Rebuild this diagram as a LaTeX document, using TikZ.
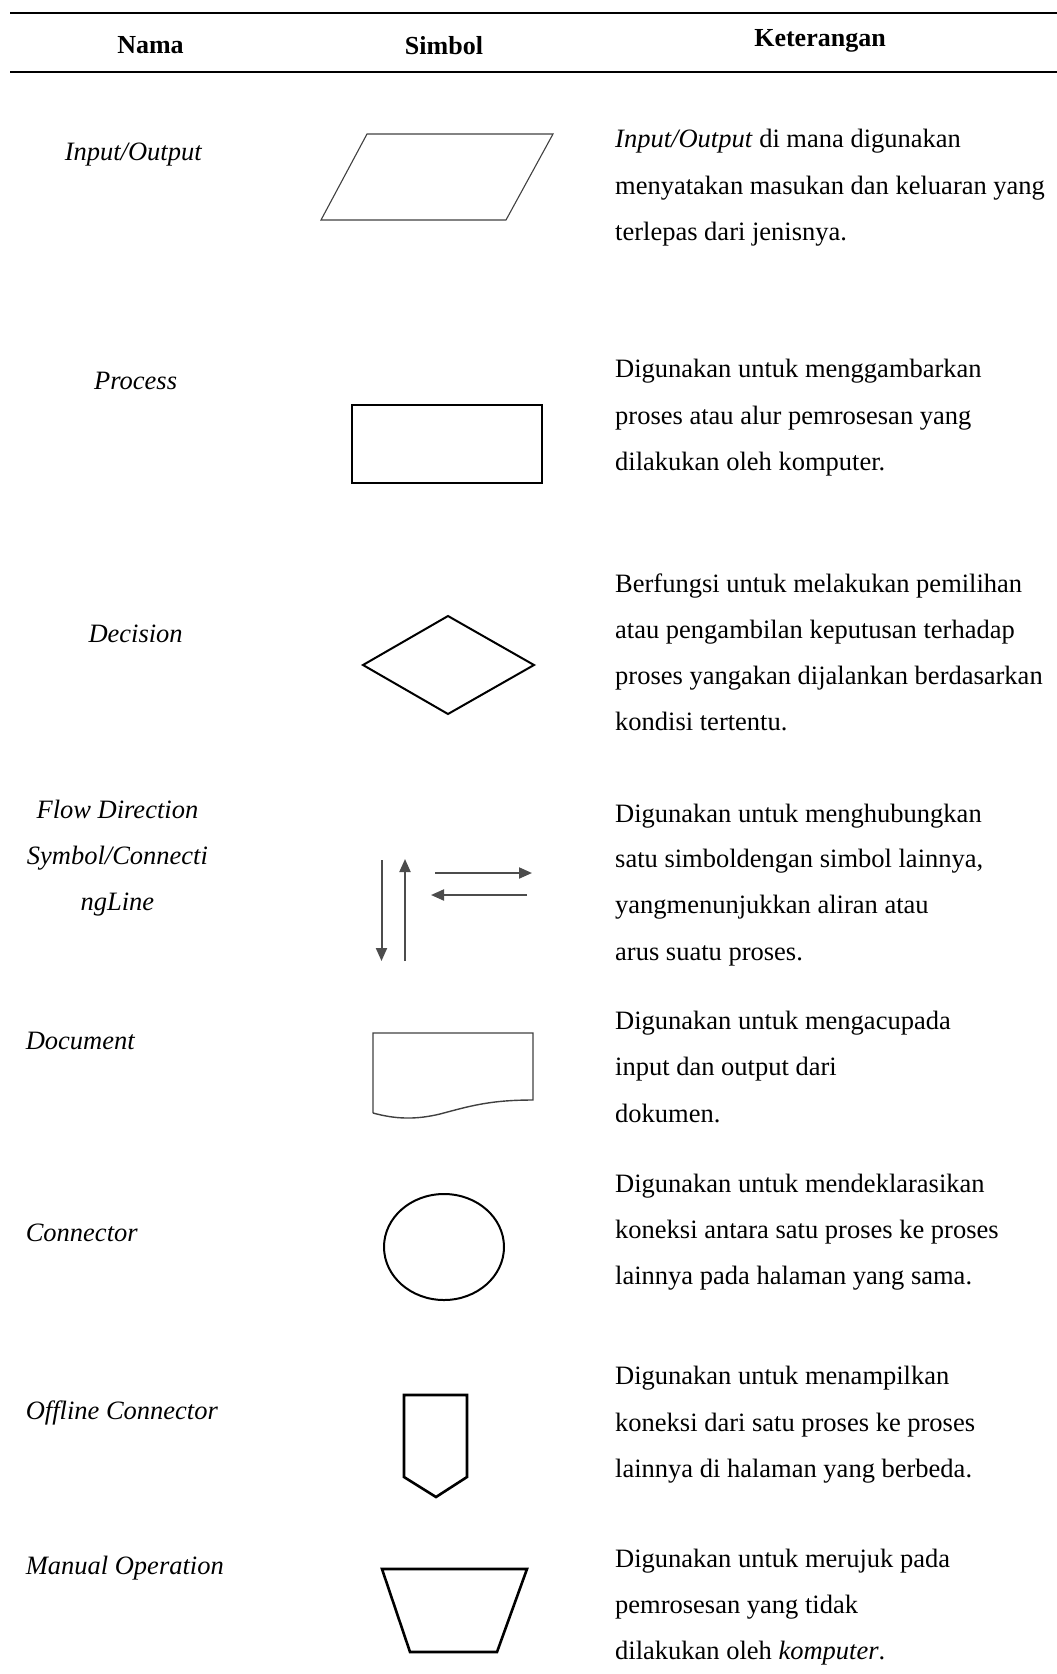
\documentclass[tikz,border=0pt]{standalone}
\usepackage{fontspec}
\setmainfont{Liberation Serif}
\usetikzlibrary{arrows.meta}
\begin{document}
\begin{tikzpicture}[x=1pt,y=-1pt,
  txt/.style={inner sep=0pt,font=\fontsize{26.5}{30}\selectfont},
  lbl/.style={txt,anchor=base},
  lbll/.style={txt,anchor=base west},
  dsc/.style={txt,anchor=base west},
  hdr/.style={txt,anchor=base,font=\fontsize{26}{30}\selectfont\bfseries},
  rule/.style={line width=2.6pt,black},
  thinsym/.style={line width=1.1pt,draw=black!75},
  midsym/.style={line width=2pt,draw=black},
  thicksym/.style={line width=2.6pt,draw=black},
  flowarr/.style={line width=2pt,draw=black!70,-{Triangle[length=13pt,width=11pt]}}
]
\useasboundingbox (0,0) rectangle (1057,1674);
% header
\coordinate (r1l) at (10,13); \coordinate (r1r) at (1057,13);
\coordinate (r2l) at (10,72); \coordinate (r2r) at (1057,72);
\draw[rule] (r1l) -- (r1r);
\draw[rule] (r2l) -- (r2r);
\node[hdr] (hn) at (150.5,53) {Nama};
\node[hdr] (hs) at (444,54) {Simbol};
\node[hdr] (hk) at (820,46) {Keterangan};

% left labels
\node[lbl] (n1) at (133.5,160) {\textit{Input/Output}};
\node[lbl] (n2) at (135.6,389) {\textit{Process}};
\node[lbl] (n3) at (135.6,642) {\textit{Decision}};
\node[lbl] (n4a) at (117.4,818) {\textit{Flow Direction}};
\node[lbl] (n4b) at (117.4,864) {\textit{Symbol/Connecti}};
\node[lbl] (n4c) at (117.4,910) {\textit{ngLine}};
\node[lbll] (n5) at (25.6,1049) {\textit{Document}};
\node[lbll] (n6) at (25.6,1241) {\textit{Connector}};
\node[lbll] (n7) at (25.6,1419) {\textit{Offline Connector}};
\node[lbll] (n8) at (25.6,1574) {\textit{Manual Operation}};

% descriptions
\node[dsc] (d1a) at (615,147) {\textit{Input/Output} di mana digunakan};
\node[dsc] (d1b) at (615,194) {menyatakan masukan dan keluaran yang};
\node[dsc] (d1c) at (615,240) {terlepas dari jenisnya.};
\node[dsc] (d2a) at (615,377) {Digunakan untuk menggambarkan};
\node[dsc] (d2b) at (615,424) {proses atau alur pemrosesan yang};
\node[dsc] (d2c) at (615,470) {dilakukan oleh komputer.};
\node[dsc] (d3a) at (615,592) {Berfungsi untuk melakukan pemilihan};
\node[dsc] (d3b) at (615,638) {atau pengambilan keputusan terhadap};
\node[dsc] (d3c) at (615,684) {proses yangakan dijalankan berdasarkan};
\node[dsc] (d3d) at (615,730) {kondisi tertentu.};
\node[dsc] (d4a) at (615,822) {Digunakan untuk menghubungkan};
\node[dsc] (d4b) at (615,867) {satu simboldengan simbol lainnya,};
\node[dsc] (d4c) at (615,913) {yangmenunjukkan aliran atau};
\node[dsc] (d4d) at (615,960) {arus suatu proses.};
\node[dsc] (d5a) at (615,1029) {Digunakan untuk mengacupada};
\node[dsc] (d5b) at (615,1075) {input dan output dari};
\node[dsc] (d5c) at (615,1122) {dokumen.};
\node[dsc] (d6a) at (615,1192) {Digunakan untuk mendeklarasikan};
\node[dsc] (d6b) at (615,1238) {koneksi antara satu proses ke proses};
\node[dsc] (d6c) at (615,1284) {lainnya pada halaman yang sama.};
\node[dsc] (d7a) at (615,1384) {Digunakan untuk menampilkan};
\node[dsc] (d7b) at (615,1431) {koneksi dari satu proses ke proses};
\node[dsc] (d7c) at (615,1477) {lainnya di halaman yang berbeda.};
\node[dsc] (d8a) at (615,1567) {Digunakan untuk merujuk pada};
\node[dsc] (d8b) at (615,1613) {pemrosesan yang tidak};
\node[dsc] (d8c) at (615,1659) {dilakukan oleh \textit{komputer}.};

% symbols
% input/output parallelogram
\draw[thinsym] (367,134) -- (553,134) -- (506,220) -- (321,220) -- cycle;
% process
\draw[midsym] (352,405) rectangle (542,483);
% decision
\draw[midsym] (363,665) -- (448,616) -- (534,665) -- (448,714) -- cycle;
% flow arrows
\coordinate (a1s) at (381.5,860); \coordinate (a1e) at (381.5,961);
\coordinate (a2s) at (405,961); \coordinate (a2e) at (405,859);
\coordinate (a3s) at (435,873); \coordinate (a3e) at (532,873);
\coordinate (a4s) at (527,895); \coordinate (a4e) at (431,895);
\draw[flowarr] (a1s) -- (a1e);
\draw[flowarr] (a2s) -- (a2e);
\draw[flowarr] (a3s) -- (a3e);
\draw[flowarr] (a4s) -- (a4e);
% document
\draw[line width=1.4pt,draw=black!75] (373,1113) -- (373,1033) -- (533,1033) -- (533,1100)
  .. controls (490,1100) and (470,1106) .. (440,1114)
  .. controls (415,1120) and (395,1119) .. (373,1113);
% connector
\draw[midsym] (444,1247) ellipse [x radius=60,y radius=53];
% offline connector
\draw[thicksym] (404,1395) -- (467,1395) -- (467,1477) -- (436,1497) -- (404,1477) -- cycle;
% manual operation
\draw[thicksym] (382,1569) -- (527,1569) -- (497,1652) -- (410,1652) -- cycle;
\end{tikzpicture}
\end{document}
